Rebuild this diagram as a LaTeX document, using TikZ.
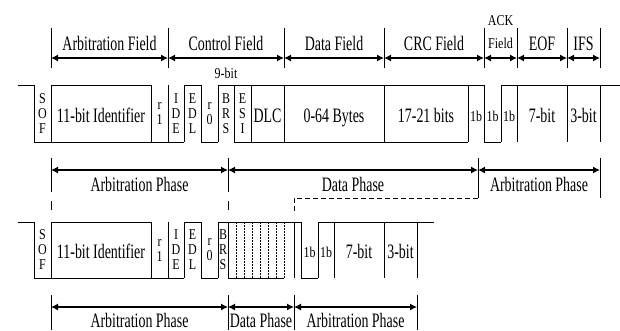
\documentclass[tikz,border=0pt]{standalone}
\usepackage{fontspec}
\setmainfont{Liberation Serif}
\newfontfamily\condf[FakeStretch=0.68]{Liberation Serif}
\newfontfamily\condsf[FakeStretch=0.8]{Liberation Serif}
\usetikzlibrary{arrows.meta}
\begin{document}
\begin{tikzpicture}[x=1pt,y=-1pt,
  wv/.style={line width=1pt},
  dv/.style={line width=0.7pt},
  dt/.style={line width=0.6pt, dash pattern=on 1.5pt off 1.5pt},
  tk/.style={line width=0.7pt},
  dsh/.style={line width=0.9pt, dash pattern=on 5pt off 3pt},
  dimarrow/.style={line width=1.1pt, {Latex[length=7pt,width=7pt]}-{Latex[length=7pt,width=7pt]}},
  bigt/.style={font=\condf\fontsize{20.5}{22}\selectfont, inner sep=0pt, anchor=base},
  smt/.style={font=\condsf\fontsize{15}{15}\selectfont, inner sep=0pt, align=center},
  smb/.style={font=\condsf\fontsize{15}{15}\selectfont, inner sep=0pt, anchor=base},
]
\useasboundingbox (0,0) rectangle (620,330);

% ---------- field markers (top) ----------
\foreach \n/\x in {a/51,b/168,c/284,d/384,e/484,f/517,g/567,h/600} {
  \coordinate (f\n t) at (\x,28);
  \coordinate (f\n b) at (\x,68);
  \coordinate (f\n m) at (\x,58);
  \draw[tk] (f\n t) -- (f\n b);
}
\draw[dimarrow] (fam) -- (fbm);
\draw[dimarrow] (fbm) -- (fcm);
\draw[dimarrow] (fcm) -- (fdm);
\draw[dimarrow] (fdm) -- (fem);
\draw[dimarrow] (fem) -- (ffm);
\draw[dimarrow] (ffm) -- (fgm);
\draw[dimarrow] (fgm) -- (fhm);
\node[bigt] (tArb) at (109.5,50) {Arbitration Field};
\node[bigt] (tCtl) at (226,50) {Control Field};
\node[bigt] (tDat) at (334,50) {Data Field};
\node[bigt] (tCRC) at (434,50) {CRC Field};
\node[smb]  (tAck) at (500.5,25) {ACK};
\node[smb]  (tAckF) at (500.5,48) {Field};
\node[bigt] (tEOF) at (542,50) {EOF};
\node[bigt] (tIFS) at (583.5,50) {IFS};
\node[smb]  (t9) at (226,78) {9-bit};

% ---------- top waveform ----------
\draw[wv] (18,85) -- (34,85);
\draw[wv] (51,85) -- (151,85);
\draw[wv] (184,85) -- (201,85);
\draw[wv] (218,85) -- (484,85);
\draw[wv] (501,85) -- (620,85);
\draw[wv] (34,142) -- (184,142);
\draw[wv] (201,142) -- (218,142);
\draw[wv] (234,142) -- (468,142);
\draw[wv] (484,142) -- (501,142);
\foreach \x in {34,51,151,168,184,201,218,234,251,284,384,468,484,501,517,567,600}
  \draw[dv] (\x,85) -- (\x,142);

\node[smt] (aSOF) at (42.5,113.5) {S\\O\\F};
\node[bigt] (aID) at (101,122) {11-bit Identifier};
\node[smt] (ar1) at (159.5,113.5) {r\\1};
\node[smt] (aIDE) at (176,113.5) {I\\D\\E};
\node[smt] (aEDL) at (192.5,113.5) {E\\D\\L};
\node[smt] (ar0) at (209.5,113.5) {r\\0};
\node[smt] (aBRS) at (226,113.5) {B\\R\\S};
\node[smt] (aESI) at (242.5,113.5) {E\\S\\I};
\node[bigt] (aDLC) at (267.5,122) {DLC};
\node[bigt] (aDat) at (334,122) {0-64 Bytes};
\node[bigt] (aCRC) at (426,122) {17-21 bits};
\node[smb] (a1b1) at (476,121) {1b};
\node[smb] (a1b2) at (492.5,121) {1b};
\node[smb] (a1b3) at (509,121) {1b};
\node[bigt] (a7) at (542,122) {7-bit};
\node[bigt] (a3) at (583.5,122) {3-bit};

% ---------- middle phase row ----------
\foreach \n/\x/\e in {a/51/192,b/228/192,c/478/198,d/600/198} {
  \coordinate (m\n t) at (\x,158);
  \coordinate (m\n b) at (\x,\e);
  \coordinate (m\n m) at (\x,170);
  \draw[tk] (m\n t) -- (m\n b);
}
\draw[tk] (51,201) -- (51,210);
\draw[tk] (228,201) -- (228,210);
\draw[dimarrow] (mam) -- (mbm);
\draw[dimarrow] (mbm) -- (mcm);
\draw[dimarrow] (mcm) -- (mdm);
\node[bigt] (pA1) at (139.5,191) {Arbitration Phase};
\node[bigt] (pD1) at (353,191) {Data Phase};
\node[bigt] (pA2) at (539,191) {Arbitration Phase};
\coordinate (dk) at (294,198);
\coordinate (dl) at (294,212);
\draw[dsh] (mcb) -- (dk) -- (dl);

% ---------- bottom waveform ----------
\draw[wv] (18,222) -- (34,222);
\draw[wv] (51,222) -- (151,222);
\draw[wv] (184,222) -- (201,222);
\draw[wv] (218,222) -- (301,222);
\draw[wv] (318,222) -- (434,222);
\draw[wv] (34,278) -- (184,278);
\draw[wv] (201,278) -- (218,278);
\draw[wv] (228,278) -- (284,278);
\draw[wv] (301,278) -- (318,278);
\foreach \x in {34,51,151,168,184,201,218,228,294,301,318,334,384,417}
  \draw[dv] (\x,222) -- (\x,278);
\foreach \x in {236,244.5,252,260.5,268.5,276.5,284}
  \draw[dt] (\x,222) -- (\x,278);

\node[smt] (bSOF) at (42.5,250) {S\\O\\F};
\node[bigt] (bID) at (101,258.5) {11-bit Identifier};
\node[smt] (br1) at (159.5,250) {r\\1};
\node[smt] (bIDE) at (176,250) {I\\D\\E};
\node[smt] (bEDL) at (192.5,250) {E\\D\\L};
\node[smt] (br0) at (209.5,250) {r\\0};
\node[smt] (bBRS) at (223,250) {B\\R\\S};
\node[smb] (b1b1) at (309.5,257.5) {1b};
\node[smb] (b1b2) at (326,257.5) {1b};
\node[bigt] (b7) at (359,258.5) {7-bit};
\node[bigt] (b3) at (400.5,258.5) {3-bit};

% ---------- bottom phase row ----------
\foreach \n/\x in {a/51,b/228,c/294,d/417} {
  \coordinate (q\n t) at (\x,295);
  \coordinate (q\n b) at (\x,330);
  \coordinate (q\n m) at (\x,307);
  \draw[tk] (q\n t) -- (q\n b);
}
\draw[dimarrow] (qam) -- (qbm);
\draw[dimarrow] (qbm) -- (qcm);
\draw[dimarrow] (qcm) -- (qdm);
\node[bigt] (pA3) at (139.5,327) {Arbitration Phase};
\node[bigt] (pD2) at (261,327) {Data Phase};
\node[bigt] (pA4) at (355.5,327) {Arbitration Phase};
\end{tikzpicture}
\end{document}
